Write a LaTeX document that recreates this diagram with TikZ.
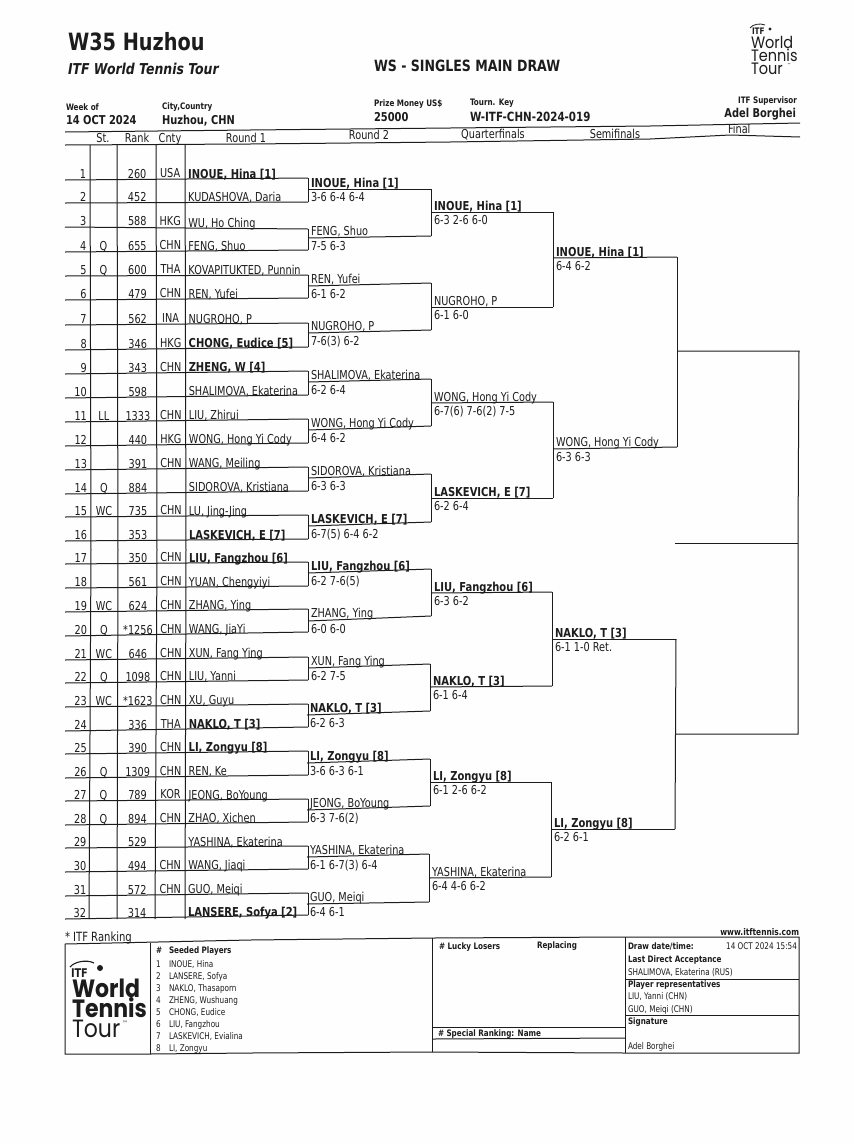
\documentclass[tikz,border=0pt]{standalone}
\usepackage{fontspec}
\setmainfont{DejaVu Sans}[FakeStretch=0.79,BoldFeatures={FakeStretch=0.81},ItalicFeatures={FakeStretch=0.79},BoldItalicFeatures={FakeStretch=0.83}]
\newfontfamily\logofont{Poppins}[FakeStretch=0.88]
\newfontfamily\tmfont{DejaVu Sans}
\newcommand{\fsz}[1]{\fontsize{#1}{#1}\selectfont}
\definecolor{ink}{HTML}{1C1C1C}
\definecolor{paper}{HTML}{FEFEFE}
\tikzset{
 lbl/.style={inner sep=0pt,outer sep=0pt,anchor=base west,text=ink,font=\fsz{12.3}},
 lblc/.style={lbl,anchor=base},
 lblr/.style={lbl,anchor=base east},
 small/.style={lbl,font=\fsz{8.9}\bfseries},
 smallr/.style={small,anchor=base east},
 tiny/.style={lbl,font=\fsz{9.2}},
 big/.style={lbl,font=\fsz{12.2}\bfseries},
 rule/.style={draw=ink,line width=1pt}
}
\begin{document}
\begin{tikzpicture}[x=1pt,y=-1pt]
\path[fill=paper] (0,0) rectangle (854,1144);
\useasboundingbox (0,0) rectangle (854,1144);
% header
\node[lbl,font=\fsz{23.8}\bfseries] (title) at (68,50) {W35 Huzhou};
\node[lbl,font=\fsz{15}\bfseries\itshape] (sub) at (68,74) {ITF World Tennis Tour};
\node[lbl,font=\fsz{15.5}\bfseries] (draw) at (374,71) {WS - SINGLES MAIN DRAW};
\node[small] (wk) at (66,110) {Week of};
\node[big] (wkv) at (66,124) {14 OCT 2024};
\node[small] (cc) at (162,109) {City,Country};
\node[big] (ccv) at (162,124) {Huzhou, CHN};
\node[small] (pm) at (374,106) {Prize Money US\$};
\node[big] (pmv) at (374,121) {25000};
\node[small] (tk) at (470,105) {Tourn. Key};
\node[big,font=\fsz{12.7}\bfseries] (tkv) at (470,121) {W-ITF-CHN-2024-019};
\node[smallr] (sup) at (797,103) {ITF Supervisor};
\node[big,anchor=base east] (supv) at (796,117) {Adel Borghei};
\draw[rule] (65,132) -- (250,130) -- (450,128) -- (650,126) -- (800,123);
\draw[rule] (65,145) -- (250,144) -- (450,142) -- (650,139) -- (730,135) -- (800,137);
\node[lblc] (hst) at (103,142) {St.};
\node[lblc] (hrk) at (137,142) {Rank};
\node[lblc] (hcn) at (170,142) {Cnty};
\node[lblc] (hr1) at (246,142) {Round 1};
\node[lblc] (hr2) at (369,139) {Round 2};
\node[lblc] (hqf) at (493,138) {Quarterfinals};
\node[lblc] (hsf) at (615,138) {Semifinals};
\node[lbl] (hfn) at (728,133.5) {Final};
% column rules
\draw[rule] (90,145) -- (91,550) -- (89,919);
\draw[rule] (117,145) -- (118,550) -- (117,919);
\draw[rule] (156,145) -- (157,550) -- (155,919);
\draw[rule] (185,145) -- (186,550) -- (185,919);
% round 1
\foreach \n/\st/\rk/\cn/\nm/\lft/\rgt in {
1//260/USA/{\bfseries INOUE, Hina [1]}/180/178,
2//452//{KUDASHOVA, Daria}/203/202,
3//588/HKG/{WU, Ho Ching}/227/229,
4/Q/655/CHN/{FENG, Shuo}/252/250,
5/Q/600/THA/{KOVAPITUKTED, Punnin}/276/275,
6//479/CHN/{REN, Yufei}/300/298,
7//562/INA/{NUGROHO, P}/325/323,
8//346/HKG/{\bfseries CHONG, Eudice [5]}/350/347,
9//343/CHN/{\bfseries ZHENG, W [4]}/374/371,
10//598//{SHALIMOVA, Ekaterina}/398/395,
11/LL/1333/CHN/{LIU, Zhirui}/422/419,
12//440/HKG/{WONG, Hong Yi Cody}/446/443,
13//391/CHN/{WANG, Meiling}/470/467,
14/Q/884//{SIDOROVA, Kristiana}/494/491,
15/WC/735/CHN/{LU, Jing-Jing}/517/515,
16//353//{\bfseries LASKEVICH, E [7]}/541/539,
17//350/CHN/{\bfseries LIU, Fangzhou [6]}/564/562,
18//561/CHN/{YUAN, Chengyiyi}/588/586,
19/WC/624/CHN/{ZHANG, Ying}/612/609,
20/Q/*1256/CHN/{WANG, JiaYi}/636/632,
21/WC/646/CHN/{XUN, Fang Ying}/660/657,
22/Q/1098/CHN/{LIU, Yanni}/683/680,
23/WC/*1623/CHN/{XU, Guyu}/707/704,
24//336/THA/{\bfseries NAKLO, T [3]}/731/727,
25//390/CHN/{\bfseries LI, Zongyu [8]}/754/751,
26/Q/1309/CHN/{REN, Ke}/778/775,
27/Q/789/KOR/{JEONG, BoYoung}/801/799,
28/Q/894/CHN/{ZHAO, Xichen}/825/822,
29//529//{YASHINA, Ekaterina}/848/846,
30//494/CHN/{WANG, Jiaqi}/872/869,
31//572/CHN/{GUO, Meiqi}/896/893,
32//314//{\bfseries LANSERE, Sofya [2]}/919/915}{
 \pgfmathsetmacro{\dx}{sin(180*\n/33)}
 \pgfmathsetmacro{\ynm}{\lft+0.6*(\rgt-\lft)-0.5}
 \pgfmathsetmacro{\ymd}{\lft+0.15*(\rgt-\lft)-2}
 \coordinate (a\n) at (65,\lft);
 \coordinate (b\n) at (308,\rgt);
 \draw[rule] (a\n) -- (b\n);
 \node[lblr] (num\n) at (86+\dx,\lft-2) {\n};
 \ifx\st\empty\else\node[lblc] (st\n) at (103+\dx,\lft-2) {\st};\fi
 \node[lblc] (rk\n) at (137+\dx,\lft-1.5) {\rk};
 \ifx\cn\empty\else\node[lblc] (cn\n) at (170+\dx,\ymd) {\cn};\fi
 \node[lbl] (nm\n) at (188+\dx,\ynm) {\nm};
}
\foreach \i in {1,3,...,31}{
 \pgfmathtruncatemacro{\j}{\i+1}
 \draw[rule] (b\i) -- (b\j);
}
% rounds 2, QF, SF
\foreach \id/\yl/\yr/\xl/\xr/\nm/\sc in {
m1/189/189/308/431/{\bfseries INOUE, Hina [1]}/{3-6 6-4 6-4},
m2/238/236/308/431/{FENG, Shuo}/{7-5 6-3},
m3/286/283/308/431/{REN, Yufei}/{6-1 6-2},
m4/333/330/308/431/{NUGROHO, P}/{7-6(3) 6-2},
m5/382/379/308/431/{SHALIMOVA, Ekaterina}/{6-2 6-4},
m6/430/426/308/431/{WONG, Hong Yi Cody}/{6-4 6-2},
m7/478/474/308/431/{SIDOROVA, Kristiana}/{6-3 6-3},
m8/526/522/308/431/{\bfseries LASKEVICH, E [7]}/{6-7(5) 6-4 6-2},
m9/573/569/308/431/{\bfseries LIU, Fangzhou [6]}/{6-2 7-6(5)},
m10/621/616/308/431/{ZHANG, Ying}/{6-0 6-0},
m11/668/664/308/430/{XUN, Fang Ying}/{6-2 7-5},
m12/715/711/307/430/{\bfseries NAKLO, T [3]}/{6-2 6-3},
m13/763/759/307/430/{\bfseries LI, Zongyu [8]}/{3-6 6-3 6-1},
m14/810/806/307/430/{JEONG, BoYoung}/{6-3 7-6(2)},
m15/857/854/307/429/{YASHINA, Ekaterina}/{6-1 6-7(3) 6-4},
m16/904/902/307/429/{GUO, Meiqi}/{6-4 6-1},
q1/212/212/431/553/{\bfseries INOUE, Hina [1]}/{6-3 2-6 6-0},
q2/307/307/431/553/{NUGROHO, P}/{6-1 6-0},
q3/403/402/431/553/{WONG, Hong Yi Cody}/{6-7(6) 7-6(2) 7-5},
q4/498/498/431/553/{\bfseries LASKEVICH, E [7]}/{6-2 6-4},
q5/593/592/431/552/{\bfseries LIU, Fangzhou [6]}/{6-3 6-2},
q6/687/686/430/552/{\bfseries NAKLO, T [3]}/{6-1 6-4},
q7/782/782/430/551/{\bfseries LI, Zongyu [8]}/{6-1 2-6 6-2},
q8/878/877/429/551/{YASHINA, Ekaterina}/{6-4 4-6 6-2},
s1/258/257/553/677/{\bfseries INOUE, Hina [1]}/{6-4 6-2},
s2/449/447/553/677/{WONG, Hong Yi Cody}/{6-3 6-3},
s3/639/639/552/676/{\bfseries NAKLO, T [3]}/{6-1 1-0 Ret.},
s4/829/829/551/675/{\bfseries LI, Zongyu [8]}/{6-2 6-1}}{
 \coordinate (\id l) at (\xl,\yl);
 \coordinate (\id r) at (\xr,\yr);
 \draw[rule] (\id l) -- (\id r);
 \pgfmathsetmacro{\ynm}{\yl+0.35*(\yr-\yl)-1.5}
 \node[lbl] (\id name) at (\xl+3,\ynm) {\nm};
 \node[lbl] (\id score) at (\xl+3,\yl+12.2) {\sc};
}
\foreach \a/\b in {m1/m2,m3/m4,m5/m6,m7/m8,m9/m10,m11/m12,m13/m14,m15/m16,q1/q2,q3/q4,q5/q6,q7/q8,s1/s2,s3/s4}{
 \draw[rule] (\a r) -- (\b r);
}
% final
\coordinate (fa) at (677,351);
\coordinate (fb) at (799,351);
\coordinate (fc) at (798,543);
\coordinate (fd) at (675,543);
\coordinate (fe) at (675,734);
\coordinate (ff) at (798,734);
\draw[rule] (fa) -- (fb) -- (fc) -- (ff) -- (fe);
\draw[rule] (fd) -- (fc);
% footer
\node[lbl,font=\fsz{12.7}] (itfr) at (65,941) {* ITF Ranking};
\node[lbl,anchor=base east,font=\fsz{9.2}\bfseries] (web) at (799,935) {www.itftennis.com};
\draw[rule] (65,944) -- (250,940) -- (433,938) -- (625,937) -- (799,937) -- (799,1053)
  -- (625,1053) -- (433,1052) -- (250,1053) -- (150,1054) -- (65,1054) -- cycle;
\draw[rule] (150,943) -- (150,1054);
\draw[rule] (432,938) -- (432,1052);
\draw[rule] (625,937) -- (625,1053);
\draw[rule] (433,1027) -- (625,1027);
\draw[rule] (433,1039) -- (625,1038);
\draw[rule] (625,979) -- (799,979);
\draw[rule] (625,1015) -- (799,1015);
\node[small] (sh) at (156,953) {\#};
\node[small] (shn) at (169,953) {Seeded Players};
\foreach \i/\nm/\y in {1/{INOUE, Hina}/967,2/{LANSERE, Sofya}/979,3/{NAKLO, Thasaporn}/991,4/{ZHENG, Wushuang}/1003,5/{CHONG, Eudice}/1015,6/{LIU, Fangzhou}/1027,7/{LASKEVICH, Evialina}/1039,8/{LI, Zongyu}/1051}{
 \node[tiny] (sn\i) at (156,\y) {\i};
 \node[tiny] (sv\i) at (169,\y) {\nm};
}
\node[small] (ll) at (439,949) {\# Lucky Losers};
\node[small] (rp) at (537,948) {Replacing};
\node[small] (sr) at (438,1036) {\# Special Ranking: Name};
\node[small] (dd) at (628,949) {Draw date/time:};
\node[tiny,anchor=base east] (ddv) at (797,949) {14 OCT 2024 15:54};
\node[small] (lda) at (628,962) {Last Direct Acceptance};
\node[tiny] (ldv) at (628,975) {SHALIMOVA, Ekaterina (RUS)};
\node[small] (pr) at (628,987) {Player representatives};
\node[tiny] (pr1) at (628,999) {LIU, Yanni (CHN)};
\node[tiny] (pr2) at (628,1012) {GUO, Meiqi (CHN)};
\node[small] (sg) at (628,1024) {Signature};
\node[tiny] (sgv) at (628,1049) {Adel Borghei};
% logo top right
\draw[ink,line width=0.8pt] (750,28) .. controls (753,24) and (760,23) .. (765,25);
\node[lbl,font=\fsz{9}\bfseries] (itf1) at (752,34) {ITF};
\fill[ink] (770,29) circle (1.7);
\node[lbl,font=\fsz{16.5}\logofont] (w1) at (751,48) {World};
\node[lbl,font=\fsz{16.5}\logofont] (t1) at (751,61) {Tennis};
\node[lbl,font=\fsz{16.5}\logofont] (u1) at (751,74) {Tour};
\node[lbl,font=\fsz{4}\tmfont] (tm1) at (787,66) {™};
% logo bottom left
\draw[ink,line width=1.1pt] (70,967) .. controls (74,962) and (86,959) .. (94,963);
\node[lbl,font=\fsz{12}\bfseries] (itf2) at (71,977) {ITF};
\fill[ink] (100,968) circle (3);
\node[lbl,font=\fsz{25}\logofont\bfseries] (w2) at (72,997) {World};
\node[lbl,font=\fsz{25}\logofont\bfseries] (t2) at (72,1017) {Tennis};
\node[lbl,font=\fsz{25}\logofont] (u2) at (72,1037) {Tour};
\node[lbl,font=\fsz{6}\tmfont] (tm) at (122,1025) {™};
\end{tikzpicture}
\end{document}
